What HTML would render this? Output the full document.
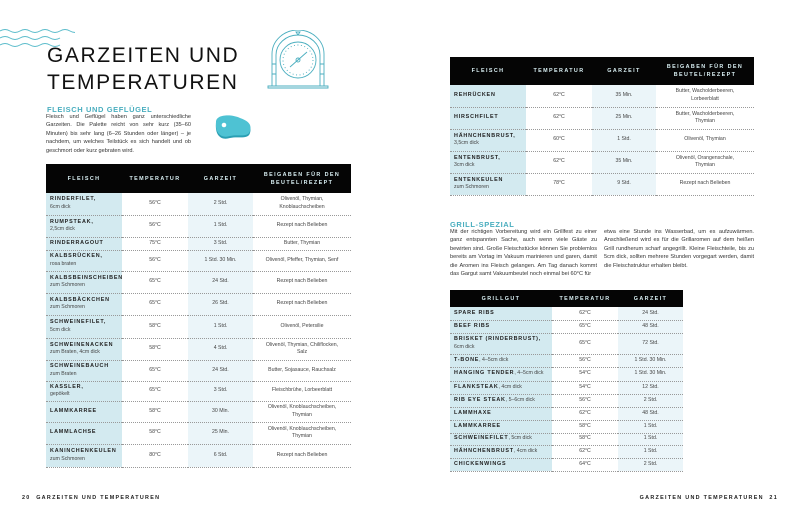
<!DOCTYPE html>
<html><head><meta charset="utf-8"><style>
*{margin:0;padding:0;box-sizing:border-box}
body{width:800px;height:521px;background:#fff;position:relative;overflow:hidden;font-family:"Liberation Sans",sans-serif;color:#222}
.a{position:absolute}
.title{font-size:21px;letter-spacing:1.6px;color:#111;font-weight:normal;line-height:27px}
.sub{font-size:7.5px;color:#4aaebf;letter-spacing:0.6px;font-weight:bold}
.p{font-size:5.6px;line-height:8.4px;color:#333;text-align:justify}
table{border-collapse:collapse;position:absolute;table-layout:fixed}
th{background:#050505;color:#d8eef2;font-size:5.4px;letter-spacing:1.4px;font-weight:bold;text-align:center;line-height:8px}
td{font-size:5.2px;text-align:center;color:#444;border-bottom:1px dotted #999;line-height:7.5px;padding:0 3px}
td.n{text-align:left;background:#d3eaf0;padding-left:4px}
td.g{background:#ebf5f9}
td.n b{font-size:5.4px;letter-spacing:0.8px;color:#222}
.f{font-size:5.4px;letter-spacing:1.3px;font-weight:bold;color:#222}
</style></head><body>
<svg class="a" style="left:0;top:28px" width="75" height="22" viewBox="0 0 75 22" fill="none" stroke="#5bbccb" stroke-width="1">
<path d="M0 3 q5 -3 10 0 t10 0 t10 0 t10 0 t10 0 t10 0 t10 0 t10 0"/>
<path d="M0 10 q5 -3 10 0 t10 0 t10 0 t10 0 t10 0 t10 0"/>
<path d="M0 17 q5 -3 10 0 t10 0 t10 0 t10 0 t10 0 t10 0"/>
</svg>
<div class="a title" style="left:47px;top:42px">GARZEITEN UND<br>TEMPERATUREN</div>
<svg class="a" style="left:266px;top:30px" width="64" height="60" viewBox="0 0 64 60" fill="none" stroke="#4aaebf" stroke-width="0.9">
<path d="M6 56 V24 a26 24 0 0 1 52 0 V56"/>
<path d="M10 56 V25 a22 20 0 0 1 44 0 V56"/>
<circle cx="32" cy="30" r="18"/><circle cx="32" cy="30" r="15" stroke-dasharray="1 2.5"/>
<path d="M24 37 L41 22"/><circle cx="32" cy="30" r="2"/>
<path d="M2 56 H62 V58 H2Z"/><path d="M30 2 h4 l-2 3z"/>
<path d="M6 34 H10 M54 34 H58 M6 44 H10 M54 44 H58"/>
</svg>
<div class="a sub" style="left:47px;top:105px">FLEISCH UND GEFLÜGEL</div>
<div class="a p" style="left:46px;top:113px;width:145px">Fleisch und Geflügel haben ganz unterschiedliche Garzeiten. Die Palette reicht von sehr kurz (35–60 Minuten) bis sehr lang (6–26 Stunden oder länger) – je nachdem, um welches Teilstück es sich handelt und ob geschmort oder kurz gebraten wird.</div>
<svg class="a" style="left:212px;top:114px" width="42" height="28" viewBox="0 0 42 28">
<path d="M4 10 C4 2 20 2 28 6 C36 9 40 12 38 19 C36 26 26 22 18 24 C8 27 3 20 4 10Z" fill="#2a9fb3"/>
<path d="M4 8 C4 0 20 0 28 4 C36 7 40 10 38 17 C36 24 26 20 18 22 C8 25 3 18 4 8Z" fill="#4ec2d3"/>
<circle cx="12" cy="11" r="2.3" fill="#fff"/>
</svg>

<table style="left:46px;top:164px;width:305px">
<colgroup><col style="width:76px"><col style="width:66px"><col style="width:65px"><col style="width:98px"></colgroup>
<tr style="height:29px"><th>FLEISCH</th><th>TEMPERATUR</th><th>GARZEIT</th><th>BEIGABEN FÜR DEN<br>BEUTEL/REZEPT</th></tr>
<tr style="height:22px"><td class="n"><b>RINDERFILET,</b><br>6cm dick</td><td>56°C</td><td class="g">2 Std.</td><td>Olivenöl, Thymian,<br>Knoblauchscheiben</td></tr>
<tr style="height:22px"><td class="n"><b>RUMPSTEAK,</b><br>2,5cm dick</td><td>56°C</td><td class="g">1 Std.</td><td>Rezept nach Belieben</td></tr>
<tr style="height:13px"><td class="n"><b>RINDERRAGOUT</b></td><td>75°C</td><td class="g">3 Std.</td><td>Butter, Thymian</td></tr>
<tr style="height:21px"><td class="n"><b>KALBSRÜCKEN,</b><br>rosa braten</td><td>56°C</td><td class="g">1 Std. 30 Min.</td><td>Olivenöl, Pfeffer, Thymian, Senf</td></tr>
<tr style="height:22px"><td class="n"><b>KALBSBEINSCHEIBEN</b><br>zum Schmoren</td><td>65°C</td><td class="g">24 Std.</td><td>Rezept nach Belieben</td></tr>
<tr style="height:22px"><td class="n"><b>KALBSBÄCKCHEN</b><br>zum Schmoren</td><td>65°C</td><td class="g">26 Std.</td><td>Rezept nach Belieben</td></tr>
<tr style="height:23px"><td class="n"><b>SCHWEINEFILET,</b><br>5cm dick</td><td>58°C</td><td class="g">1 Std.</td><td>Olivenöl, Petersilie</td></tr>
<tr style="height:22px"><td class="n"><b>SCHWEINENACKEN</b><br>zum Braten, 4cm dick</td><td>58°C</td><td class="g">4 Std.</td><td>Olivenöl, Thymian, Chiliflocken,<br>Salz</td></tr>
<tr style="height:21px"><td class="n"><b>SCHWEINEBAUCH</b><br>zum Braten</td><td>65°C</td><td class="g">24 Std.</td><td>Butter, Sojasauce, Rauchsalz</td></tr>
<tr style="height:20px"><td class="n"><b>KASSLER,</b><br>gepökelt</td><td>65°C</td><td class="g">3 Std.</td><td>Fleischbrühe, Lorbeerblatt</td></tr>
<tr style="height:21px"><td class="n"><b>LAMMKARREE</b></td><td>58°C</td><td class="g">30 Min.</td><td>Olivenöl, Knoblauchscheiben,<br>Thymian</td></tr>
<tr style="height:22px"><td class="n"><b>LAMMLACHSE</b></td><td>58°C</td><td class="g">25 Min.</td><td>Olivenöl, Knoblauchscheiben,<br>Thymian</td></tr>
<tr style="height:23px"><td class="n"><b>KANINCHENKEULEN</b><br>zum Schmoren</td><td>80°C</td><td class="g">6 Std.</td><td>Rezept nach Belieben</td></tr>
</table>

<table style="left:450px;top:57px;width:304px">
<colgroup><col style="width:76px"><col style="width:66px"><col style="width:64px"><col style="width:98px"></colgroup>
<tr style="height:28px"><th>FLEISCH</th><th>TEMPERATUR</th><th>GARZEIT</th><th>BEIGABEN FÜR DEN<br>BEUTEL/REZEPT</th></tr>
<tr style="height:22px"><td class="n"><b>REHRÜCKEN</b></td><td>62°C</td><td class="g">35 Min.</td><td>Butter, Wacholderbeeren,<br>Lorbeerblatt</td></tr>
<tr style="height:22px"><td class="n"><b>HIRSCHFILET</b></td><td>62°C</td><td class="g">25 Min.</td><td>Butter, Wacholderbeeren,<br>Thymian</td></tr>
<tr style="height:22px"><td class="n"><b>HÄHNCHENBRUST,</b><br>3,5cm dick</td><td>60°C</td><td class="g">1 Std.</td><td>Olivenöl, Thymian</td></tr>
<tr style="height:22px"><td class="n"><b>ENTENBRUST,</b><br>3cm dick</td><td>62°C</td><td class="g">35 Min.</td><td>Olivenöl, Orangenschale,<br>Thymian</td></tr>
<tr style="height:22px"><td class="n"><b>ENTENKEULEN</b><br>zum Schmoren</td><td>78°C</td><td class="g">9 Std.</td><td>Rezept nach Belieben</td></tr>
</table>

<div class="a sub" style="left:450px;top:220px">GRILL-SPEZIAL</div>
<div class="a p" style="left:450px;top:228px;width:147px">Mit der richtigen Vorbereitung wird ein Grillfest zu einer ganz entspannten Sache, auch wenn viele Gäste zu bewirten sind. Große Fleischstücke können Sie problemlos bereits am Vortag im Vakuum marinieren und garen, damit die Aromen ins Fleisch gelangen. Am Tag danach kommt das Gargut samt Vakuumbeutel noch einmal bei 60°C für</div>
<div class="a p" style="left:604px;top:228px;width:150px">etwa eine Stunde ins Wasserbad, um es aufzuwärmen. Anschließend wird es für die Grillaromen auf dem heißen Grill rundherum scharf angegrillt. Kleine Fleischteile, bis zu 5cm dick, sollten mehrere Stunden vorgegart werden, damit die Fleischstruktur erhalten bleibt.</div>

<table style="left:450px;top:290px;width:233px">
<colgroup><col style="width:102px"><col style="width:66px"><col style="width:65px"></colgroup>
<tr style="height:17px"><th>GRILLGUT</th><th>TEMPERATUR</th><th>GARZEIT</th></tr>
<tr style="height:13px"><td class="n"><b>SPARE RIBS</b></td><td>62°C</td><td class="g">24 Std.</td></tr>
<tr style="height:13px"><td class="n"><b>BEEF RIBS</b></td><td>65°C</td><td class="g">48 Std.</td></tr>
<tr style="height:21px"><td class="n"><b>BRISKET (RINDERBRUST),</b><br>6cm dick</td><td>65°C</td><td class="g">72 Std.</td></tr>
<tr style="height:13px"><td class="n"><b>T-BONE</b>, 4–5cm dick</td><td>56°C</td><td class="g">1 Std. 30 Min.</td></tr>
<tr style="height:14px"><td class="n"><b>HANGING TENDER</b>, 4–5cm dick</td><td>54°C</td><td class="g">1 Std. 30 Min.</td></tr>
<tr style="height:13px"><td class="n"><b>FLANKSTEAK</b>, 4cm dick</td><td>54°C</td><td class="g">12 Std.</td></tr>
<tr style="height:13px"><td class="n"><b>RIB EYE STEAK</b>, 5–6cm dick</td><td>56°C</td><td class="g">2 Std.</td></tr>
<tr style="height:13px"><td class="n"><b>LAMMHAXE</b></td><td>62°C</td><td class="g">48 Std.</td></tr>
<tr style="height:13px"><td class="n"><b>LAMMKARREE</b></td><td>58°C</td><td class="g">1 Std.</td></tr>
<tr style="height:12px"><td class="n"><b>SCHWEINEFILET</b>, 5cm dick</td><td>58°C</td><td class="g">1 Std.</td></tr>
<tr style="height:13px"><td class="n"><b>HÄHNCHENBRUST</b>, 4cm dick</td><td>62°C</td><td class="g">1 Std.</td></tr>
<tr style="height:13px"><td class="n"><b>CHICKENWINGS</b></td><td>64°C</td><td class="g">2 Std.</td></tr>
</table>

<div class="a f" style="left:22px;top:495px">20&nbsp;&nbsp;GARZEITEN UND TEMPERATUREN</div>
<div class="a f" style="right:22px;top:495px">GARZEITEN UND TEMPERATUREN&nbsp;&nbsp;21</div>
</body></html>
